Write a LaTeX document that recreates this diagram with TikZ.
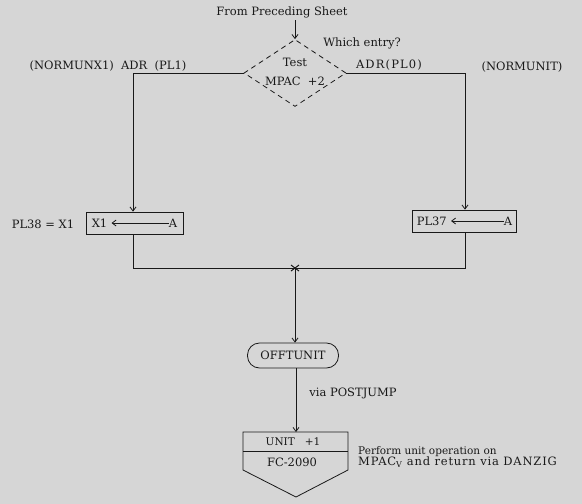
\documentclass[tikz,border=0pt]{standalone}
\usepackage{fontspec}
\setmainfont{DejaVu Serif}
\usetikzlibrary{arrows.meta,shapes.geometric}
\definecolor{bg}{RGB}{214,214,214}
\definecolor{ink}{RGB}{25,25,25}
\tikzset{
  txt/.style={inner sep=0pt, font=\fontsize{11.5}{13}\selectfont, text=ink},
  ln/.style={draw=ink, line width=0.8pt},
  arr/.style={ln, -{Straight Barb[length=4pt,width=6pt]}},
  opbox/.style={draw=ink, line width=0.8pt, minimum height=22pt, inner sep=0pt},
}
\begin{document}
\begin{tikzpicture}[x=1pt,y=-1pt]
\fill[bg] (0,0) rectangle (582,504);
\useasboundingbox (0,0) rectangle (582,504);

\node[txt] (fromt) at (282,12) {From Preceding Sheet};
\node[diamond, draw=ink, dashed, dash pattern=on 5pt off 4pt, line width=0.8pt,
      minimum width=102pt, minimum height=67pt, inner sep=0pt, aspect=1.5] (dia) at (295,73) {};
\node[txt] (test) at (295,62) {Test};
\node[txt] (mpac) at (295,81) {MPAC~~+2};
\node[txt] (which) at (362,43) {Which entry?};
\coordinate (ftop) at (295,20);
\draw[arr] (ftop) -- (dia.north);

\node[txt] (lentry) at (108,66) {(NORMUNX1)~~ADR~~(PL1)};
\node[txt, font=\fontsize{11.5}{13}\selectfont\addfontfeatures{LetterSpace=10}] (rentry) at (389,65) {ADR(PL0)};
\node[txt] (rname) at (522,67) {(NORMUNIT)};

\node[opbox, minimum width=97pt] (lbox) at (134.5,223) {};
\node[txt, anchor=west] (lx) at ([xshift=6pt]lbox.west) {X1};
\node[txt, anchor=east] (la) at ([xshift=-6pt]lbox.east) {A};
\draw[arr] (la.west) -- ([xshift=4pt]lx.east);
\node[txt] (pl38) at (43,224) {PL38 = X1};

\node[opbox, minimum width=104pt] (rbox) at (464,221) {};
\node[txt, anchor=west] (rx) at ([xshift=5pt]rbox.west) {PL37};
\node[txt, anchor=east] (ra) at ([xshift=-4pt]rbox.east) {A};
\draw[arr] (ra.west) -- ([xshift=4pt]rx.east);

\coordinate (lc) at (133,73);
\coordinate (rc) at (465,73);
\draw[ln] (dia.west) -- (lc);
\draw[arr] (lc) -- (lc |- lbox.north);
\draw[ln] (dia.east) -- (rc);
\draw[arr] (rc) -- (rc |- rbox.north);

\coordinate (junc) at (295,268);
\coordinate (lj) at (133,268);
\coordinate (rj) at (465,268);
\draw[ln] (lbox.south -| lc) -- (lj) -- (rj) -- (rbox.south -| rc);
\draw[ink, line width=1pt] ([shift={(-4,-3)}]junc) -- ([shift={(4,3)}]junc)
  ([shift={(-4,3)}]junc) -- ([shift={(4,-3)}]junc);

\node[draw=ink, line width=0.8pt, rounded corners=12pt, minimum width=91pt, minimum height=25pt, inner sep=0pt, txt] (off) at (293,355.5) {OFFTUNIT};
\draw[arr] (junc) -- (junc |- off.north);
\node[txt] (via) at (353,393) {via POSTJUMP};

\coordinate (ptl) at (243,432);
\coordinate (ptr) at (348,432);
\coordinate (pml) at (243,451);
\coordinate (pmr) at (348,451);
\coordinate (pbl) at (243,470);
\coordinate (pbr) at (348,470);
\coordinate (ptip) at (296,497);
\draw[ln] (ptl) -- (ptr) -- (pbr) -- (ptip) -- (pbl) -- cycle;
\draw[ln] (pml) -- (pmr);
\coordinate (ptop) at (296,432);
\draw[arr] (off.south -| ptop) -- (ptop);
\node[txt, font=\fontsize{10.5}{12}\selectfont] (unit) at (293,441.5) {UNIT~~~+1};
\node[txt] (fc) at (292,462) {FC-2090};
\node[txt, anchor=north west] (perf1) at (358,446) {\fontsize{10.5}{12}\selectfont Perform unit operation on};
\node[txt, anchor=north west] (perf2) at (358,457) {\addfontfeatures{LetterSpace=7}MPAC\textsubscript{V} and return via DANZIG};
\end{tikzpicture}
\end{document}
